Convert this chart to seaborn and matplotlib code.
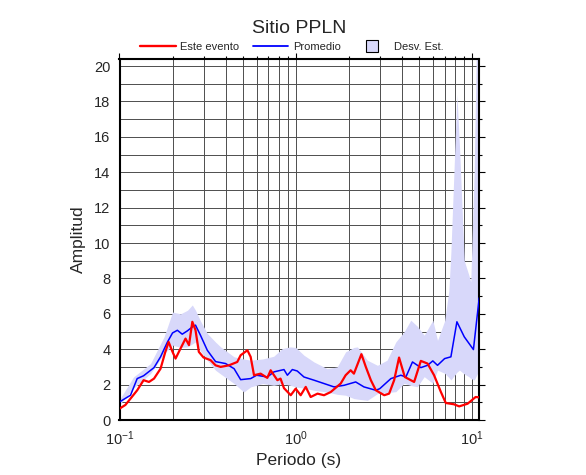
"""Spectral ratio plot for site PPLN."""
import matplotlib
matplotlib.use("Agg")
import matplotlib.pyplot as plt
from matplotlib.lines import Line2D
from matplotlib.ticker import MultipleLocator, LogLocator, NullFormatter, FixedLocator, FixedFormatter
import seaborn as sns
import pandas as pd

# --- data ------------------------------------------------------------------
event_period = [0.1, 0.108, 0.1155, 0.126, 0.137, 0.147, 0.157, 0.171, 0.182, 0.19,
                0.2, 0.208, 0.222, 0.237, 0.248, 0.259, 0.27, 0.282, 0.3, 0.329,
                0.351, 0.375, 0.418, 0.466, 0.487, 0.532, 0.555, 0.58, 0.632, 0.69,
                0.721, 0.787, 0.82, 0.858, 0.937, 1.0, 1.067, 1.14, 1.216, 1.33,
                1.448, 1.58, 1.8, 1.92, 2.05, 2.14, 2.29, 2.36, 2.5, 2.67,
                2.85, 3.18, 3.39, 3.62, 3.86, 4.16, 4.7, 5.13, 5.6, 6.1,
                6.67, 7.11, 7.9, 8.47, 9.45, 10.5, 11.0]
event_amp = [0.64, 0.85, 1.21, 1.68, 2.25, 2.15, 2.34, 2.9, 3.85, 4.41,
             3.85, 3.47, 4.04, 4.6, 4.23, 5.55, 5.08, 3.85, 3.53, 3.38,
             3.09, 3.0, 3.09, 3.28, 3.66, 3.94, 3.57, 2.53, 2.62, 2.38,
             2.81, 2.25, 2.34, 1.8, 1.4, 1.77, 1.4, 1.87, 1.3, 1.49,
             1.4, 1.58, 2.06, 2.53, 2.81, 2.62, 3.38, 3.72, 3.0, 2.25,
             1.68, 1.4, 1.49, 2.25, 3.53, 2.43, 2.15, 3.34, 3.19, 2.53,
             1.58, 0.96, 0.89, 0.77, 0.92, 1.3, 1.28]

mean_period = [0.1, 0.1155, 0.126, 0.137, 0.157, 0.171, 0.187, 0.2, 0.213, 0.227,
               0.243, 0.259, 0.27, 0.288, 0.315, 0.351, 0.4, 0.447, 0.487, 0.555,
               0.6, 0.69, 0.753, 0.858, 0.897, 0.957, 1.02, 1.114, 1.27, 1.448,
               1.65, 1.88, 2.19, 2.44, 2.85, 3.0, 3.47, 3.95, 4.22, 4.6,
               5.13, 5.6, 6.0, 6.38, 7.0, 7.6, 8.22, 9.05, 10.2, 11.0]
mean_amp = [1.02, 1.4, 2.34, 2.5, 2.96, 3.57, 4.4, 4.92, 5.07, 4.85,
            5.04, 5.26, 5.36, 4.79, 3.94, 3.3, 3.19, 2.9, 2.28, 2.34,
            2.53, 2.43, 2.72, 2.85, 2.53, 2.85, 2.77, 2.43, 2.25, 2.06,
            1.87, 1.96, 2.15, 1.87, 1.68, 1.77, 2.34, 2.53, 2.43, 3.28,
            2.96, 3.09, 3.34, 3.09, 3.47, 3.57, 5.55, 4.7, 3.98, 6.9]

band_period = [0.1, 0.12, 0.15, 0.179, 0.2, 0.222, 0.243, 0.259, 0.27, 0.288,
               0.315, 0.351, 0.375, 0.447, 0.508, 0.555, 0.65, 0.75, 0.84, 0.93,
               1.0, 1.114, 1.27, 1.51, 1.72, 1.92, 2.14, 2.24, 2.55, 2.91,
               3.3, 3.7, 4.12, 4.5, 4.9, 5.36, 6.0, 6.38, 7.0, 7.4,
               7.6, 8.22, 8.5, 9.05, 9.6, 9.85, 10.3, 10.6, 11.0]
band_high = [1.15, 2.43, 3.19, 4.7, 6.1, 6.0, 6.2, 6.5, 6.2, 5.6,
             4.89, 4.4, 4.13, 3.57, 3.45, 3.38, 3.45, 3.6, 4.04, 4.13,
             4.1, 3.66, 3.28, 2.9, 3.0, 3.85, 4.1, 4.13, 3.38, 3.09,
             3.38, 4.41, 4.98, 5.64, 5.3, 4.79, 5.64, 4.5, 5.6, 7.3,
             9.5, 18.4, 15.5, 9.0, 8.2, 7.8, 14.0, 21.0, 21.0]
band_low = [0.85, 1.8, 2.62, 3.75, 4.23, 4.1, 4.13, 4.3, 4.41, 3.9,
            3.38, 2.81, 2.6, 2.06, 1.58, 1.87, 2.06, 1.96, 2.06, 1.96,
            1.87, 1.8, 1.68, 1.58, 1.45, 1.4, 1.21, 1.18, 1.11, 1.49,
            1.55, 1.6, 2.07, 1.95, 1.88, 2.45, 2.07, 2.82, 2.64, 2.4,
            2.26, 2.7, 2.82, 2.6, 2.45, 2.35, 2.26, 2.5, 2.82]

x_ticks = [0.1, 1.0, 10.0]
x_tick_labels = [r"$10^{-1}$", r"$10^{0}$", r"$10^{1}$"]

BAND_COLOR = "#d8d8fa"

sns.set_style("white")
plt.rcParams["font.family"] = ["Liberation Sans", "DejaVu Sans"]
plt.rcParams["mathtext.fontset"] = "custom"
plt.rcParams["mathtext.rm"] = "Liberation Sans"
plt.rcParams["mathtext.it"] = "Liberation Sans"

fig = plt.figure(figsize=(5.86, 4.75), dpi=100)
ax = fig.add_axes([119.5 / 586, 1 - 420 / 475, 359 / 586, 361 / 475])

ax.fill_between(band_period, band_low, band_high, color=BAND_COLOR, lw=0, zorder=1)

df_mean = pd.DataFrame({"Periodo": mean_period, "Amplitud": mean_amp})
df_event = pd.DataFrame({"Periodo": event_period, "Amplitud": event_amp})
sns.lineplot(data=df_mean, x="Periodo", y="Amplitud", color="#0000ff", lw=1.1,
             ax=ax, zorder=3)
sns.lineplot(data=df_event, x="Periodo", y="Amplitud", color="#ff0000", lw=1.6,
             ax=ax, zorder=4)

ax.set_xscale("log")
ax.set_xlim(0.1, 10.9)
ax.set_ylim(0, 20.4)

ax.xaxis.set_major_locator(FixedLocator(x_ticks))
ax.xaxis.set_major_formatter(FixedFormatter(x_tick_labels))
ax.xaxis.set_minor_locator(LogLocator(base=10, subs=range(2, 10)))
ax.xaxis.set_minor_formatter(NullFormatter())
ax.yaxis.set_major_locator(MultipleLocator(2))
ax.yaxis.set_minor_locator(MultipleLocator(1))

ax.grid(True, which="both", color="0.3", lw=0.7, zorder=0)
ax.set_axisbelow(True)

ax.tick_params(which="both", direction="out", top=True, right=True,
               labeltop=False, labelright=False, width=0.8, color="black",
               labelsize=10.5, pad=2)
ax.tick_params(which="major", length=4.5)
ax.tick_params(which="minor", length=2.5)
for side in ax.spines.values():
    side.set_linewidth(1.5)
    side.set_color("black")

ax.set_xlabel("Periodo (s)", fontsize=12.5, labelpad=4)
ax.set_ylabel("Amplitud", fontsize=12.5, labelpad=6)

fig.text(299 / 586, 1 - 33 / 475, "Sitio PPLN", ha="center", va="baseline", fontsize=14)

handles = [
    Line2D([], [], color="#ff0000", lw=1.7),
    Line2D([], [], color="#0000ff", lw=1.3),
    Line2D([], [], marker="s", markersize=9, markerfacecolor=BAND_COLOR,
           markeredgecolor="black", markeredgewidth=0.8, linestyle="none"),
]
fig.legend(handles, ["Este evento", "Promedio", "Desv. Est."], loc="center",
           bbox_to_anchor=(292 / 586, 1 - 47 / 475), ncol=3, frameon=False,
           fontsize=8, handlelength=3.2, handletextpad=0.4, columnspacing=1.2,
           borderpad=0)

fig.savefig("out.png", dpi=100)
